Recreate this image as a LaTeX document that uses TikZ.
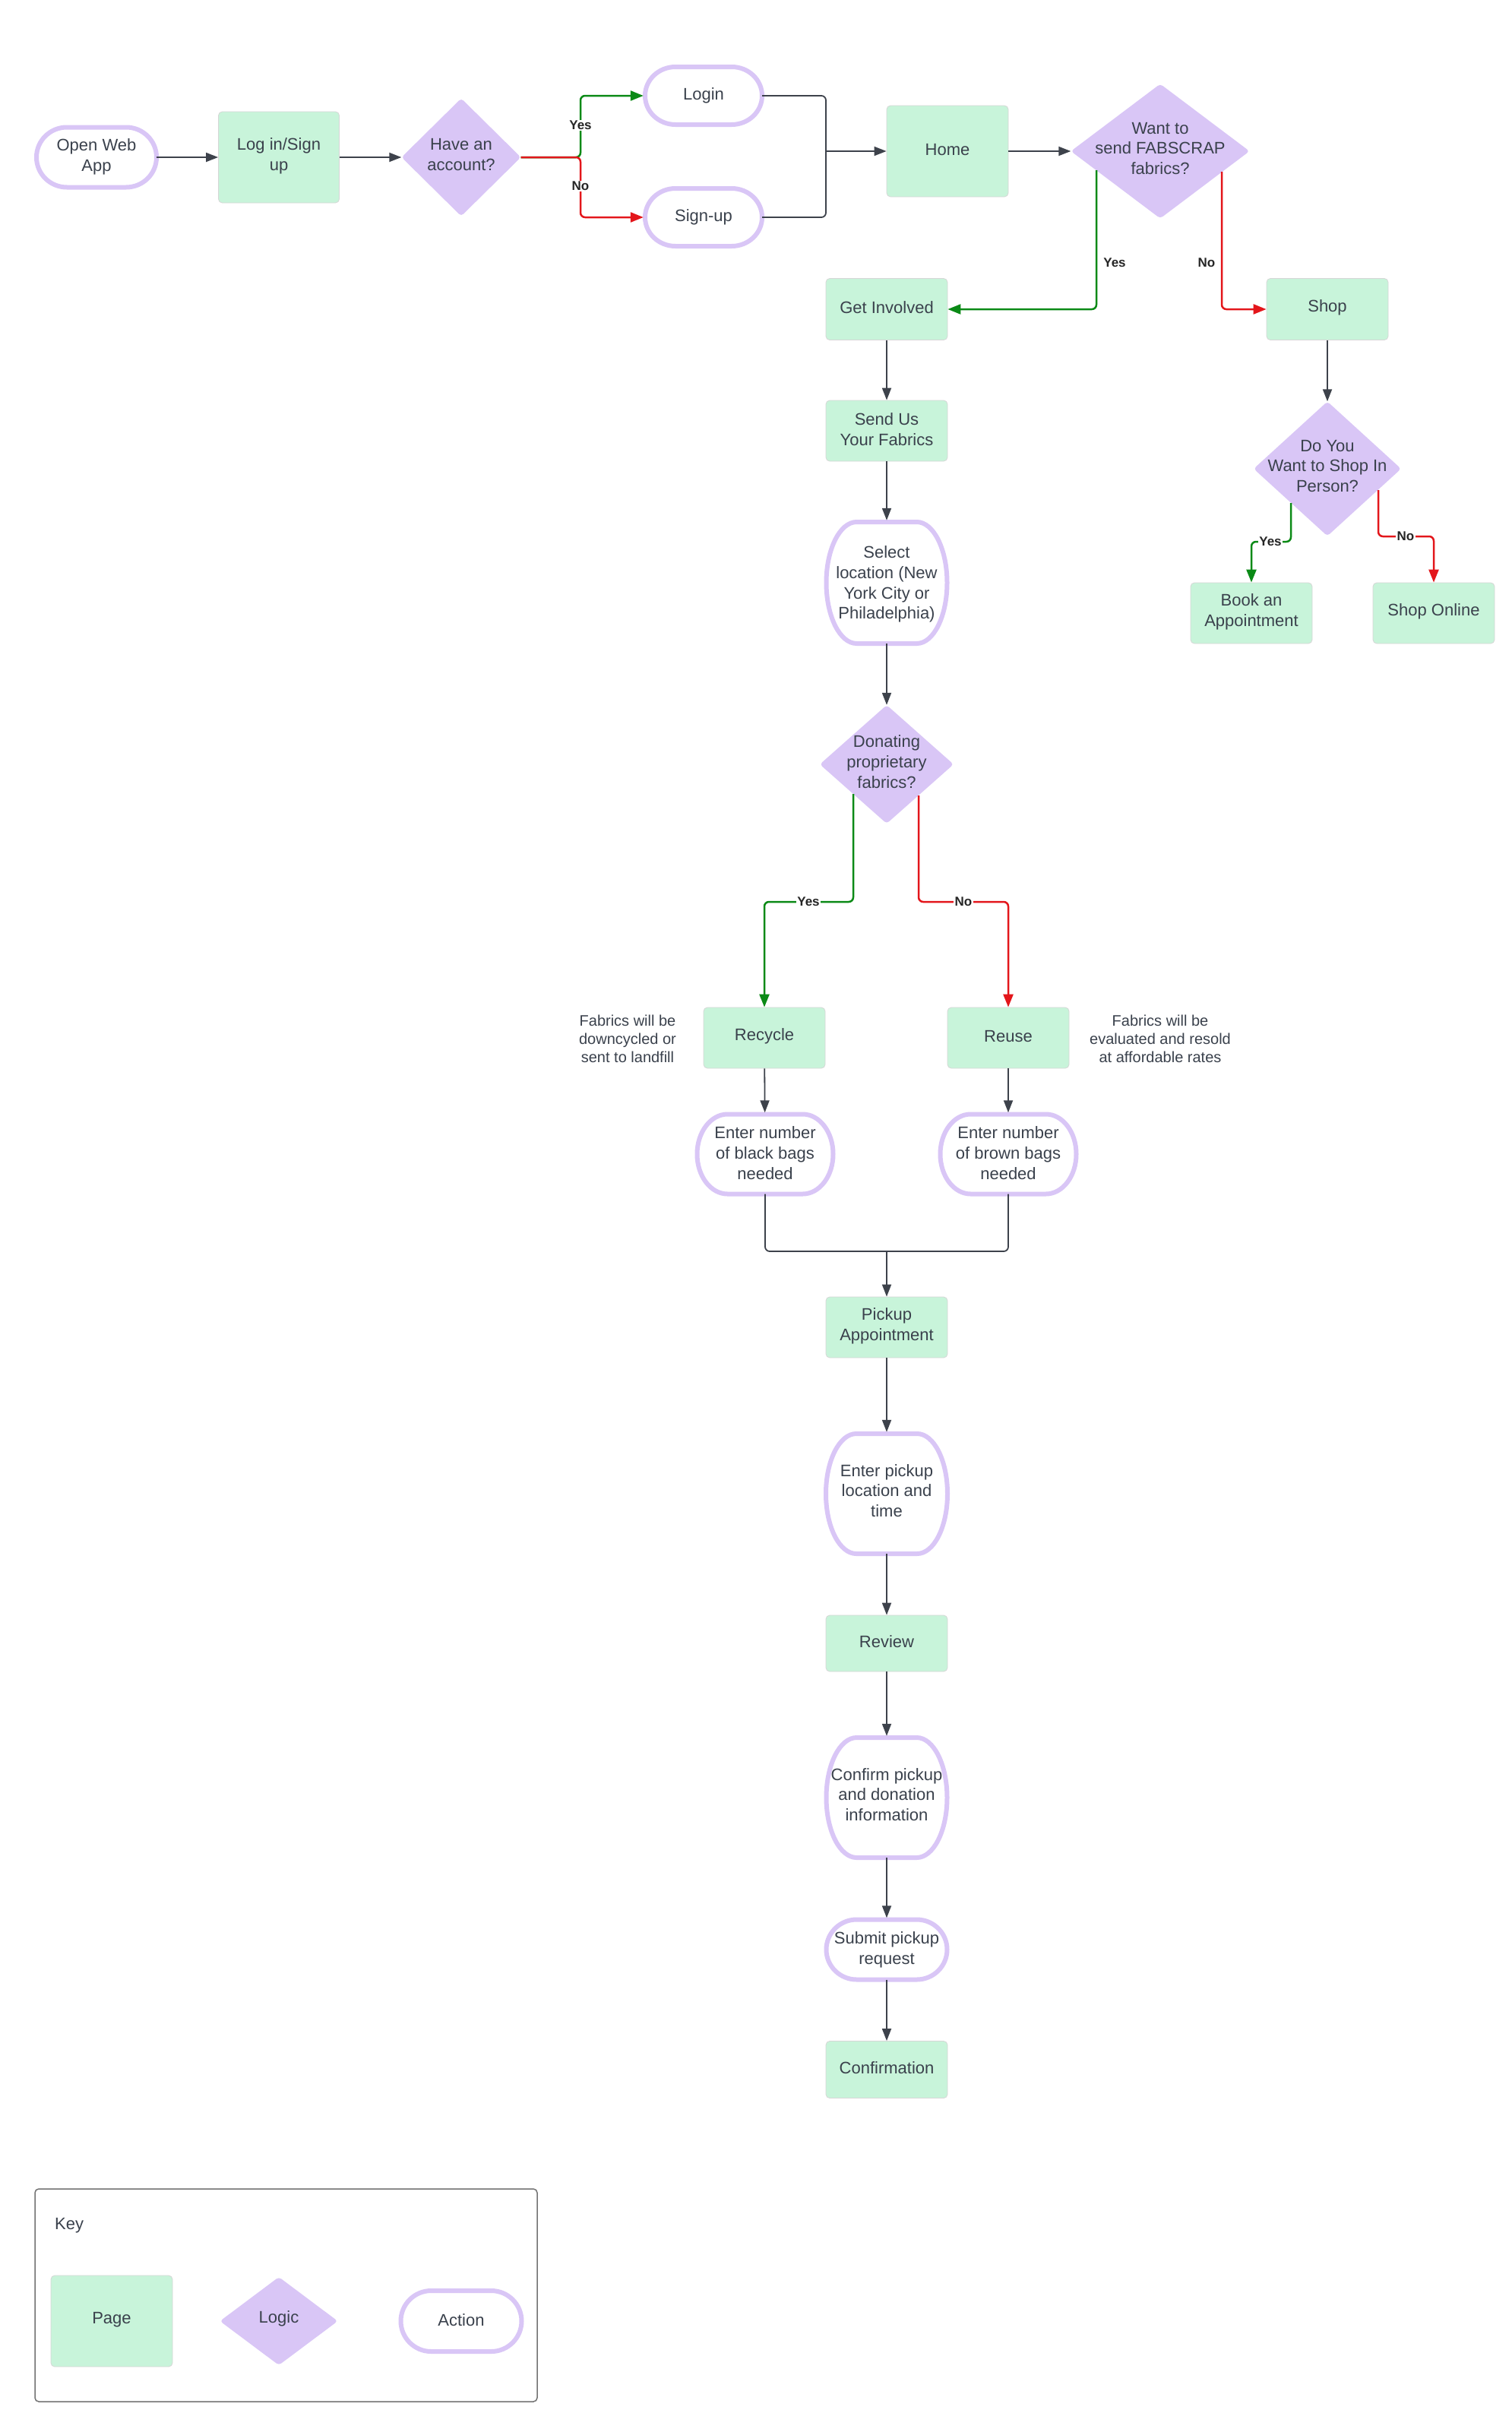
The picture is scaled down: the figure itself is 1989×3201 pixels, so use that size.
\documentclass[tikz,border=0pt]{standalone}
\usepackage{fontspec}
\setmainfont{Liberation Sans}
\usetikzlibrary{arrows.meta,calc}
\definecolor{pagegreen}{HTML}{C8F4DA}
\definecolor{logicpurple}{HTML}{D9C6F6}
\definecolor{txt}{HTML}{3A414C}
\definecolor{conn}{HTML}{3D424B}
\definecolor{yesgreen}{HTML}{0B8A16}
\definecolor{nored}{HTML}{E3161B}
\tikzset{
 base/.style={inner sep=0pt, align=center, text=txt, font=\fontsize{22}{26.7}\selectfont},
 page/.style={base, fill=pagegreen, draw=black!16, line width=0.8pt, rounded corners=5pt},
 logicfill/.style={fill=logicpurple, rounded corners=4pt},
 actborder/.style={draw=logicpurple, line width=6pt},
 flow/.style={draw=conn, line width=1.8pt, -{Triangle[length=16pt,width=12pt]}, rounded corners=6pt},
 flowline/.style={draw=conn, line width=1.8pt, rounded corners=6pt},
 yesflow/.style={draw=yesgreen, line width=2.5pt, -{Triangle[length=17pt,width=13pt]}, rounded corners=6pt},
 noflow/.style={draw=nored, line width=2.5pt, -{Triangle[length=17pt,width=13pt]}, rounded corners=6pt},
 lbl/.style={inner sep=1.5pt, text=black!85, font=\fontsize{17}{20}\selectfont\bfseries},
 lblbg/.style={lbl, fill=white},
 note/.style={inner sep=0pt, align=center, text=txt, font=\fontsize{20}{24}\selectfont},
}
\newcommand{\pagenode}[6]{%
 \node[page, minimum width=#4pt, minimum height=#5pt] (#1) at (#2,#3) {};
 \node[base] (#1-text) at (#2,{#3-2}) {#6};}
\newcommand{\logicnode}[6]{%
 \fill[logicfill] (#2,{#3-#5/2}) -- ({#2+#4/2},#3) -- (#2,{#3+#5/2}) -- ({#2-#4/2},#3) -- cycle;
 \node[base, minimum width=#4pt, minimum height=#5pt] (#1) at (#2,#3) {};
 \node[base] (#1-text) at (#2,{#3-3.5}) {#6};}
\newcommand{\actnode}[7]{%
 \node[base, minimum width=#4pt, minimum height=#5pt] (#1) at (#2,#3) {};
 \node[base] (#1-text) at (#2,{#3+#7}) {#6};
 \draw[actborder] ({#2-#4/2+40},{#3-#5/2}) -- ({#2+#4/2-40},{#3-#5/2})
   .. controls ({#2+#4/2-17.9},{#3-#5/2}) and ({#2+#4/2},{#3-0.2762*#5}) .. ({#2+#4/2},#3)
   .. controls ({#2+#4/2},{#3+0.2762*#5}) and ({#2+#4/2-17.9},{#3+#5/2}) .. ({#2+#4/2-40},{#3+#5/2})
   -- ({#2-#4/2+40},{#3+#5/2})
   .. controls ({#2-#4/2+17.9},{#3+#5/2}) and ({#2-#4/2},{#3+0.2762*#5}) .. ({#2-#4/2},#3)
   .. controls ({#2-#4/2},{#3-0.2762*#5}) and ({#2-#4/2+17.9},{#3-#5/2}) .. ({#2-#4/2+40},{#3-#5/2}) -- cycle;}
\begin{document}
\begin{tikzpicture}[x=1pt,y=-1pt]
\useasboundingbox (0,0) rectangle (1989,3201);
\fill[white] (0,0) rectangle (1989,3201);

% top row
\actnode{open}{127}{207}{158}{79}{Open Web\\App}{-1}
\pagenode{lsu}{367}{207}{159}{120}{Log in/Sign\\up}
\logicnode{d1}{607}{207}{157}{155}{Have an\\account?}
\actnode{login}{926}{126}{154}{76}{Login}{0}
\actnode{signup}{926}{286}{154}{76}{Sign-up}{0}
\pagenode{home}{1247}{199}{160}{120}{Home}
\logicnode{d2}{1527}{199}{235}{177}{Want to\\send FABSCRAP\\fabrics?}

% second level
\pagenode{getinv}{1167}{407}{160}{81}{Get Involved}
\pagenode{shop}{1747}{407}{160}{81}{Shop}
\pagenode{sendus}{1167}{567}{160}{80}{Send Us\\Your Fabrics}
\actnode{select}{1167}{767}{159}{160}{Select\\location (New\\York City or\\Philadelphia)}{2}
\logicnode{d4}{1747}{617}{194}{177}{Do You\\Want to Shop In\\Person?}
\pagenode{book}{1647}{807}{160}{80}{Book an\\Appointment}
\pagenode{shoponline}{1887}{807}{160}{80}{Shop Online}
\logicnode{d3}{1167}{1006}{176}{156}{Donating\\proprietary\\fabrics?}
\pagenode{recycle}{1006}{1366}{160}{80}{Recycle}
\pagenode{reuse}{1327}{1366}{160}{80}{Reuse}
\node[note] (n1) at (826,1367) {Fabrics will be\\downcycled or\\sent to landfill};
\node[note] (n2) at (1527,1367) {Fabrics will be\\evaluated and resold\\at affordable rates};
\actnode{black}{1007}{1519}{179}{105}{Enter number\\of black bags\\needed}{-1.5}
\actnode{brown}{1327}{1519}{179}{105}{Enter number\\of brown bags\\needed}{-1.5}
\pagenode{pickup}{1167}{1747}{160}{80}{Pickup\\Appointment}
\actnode{enterpick}{1167}{1966}{160}{158}{Enter pickup\\location and\\time}{-4}
\pagenode{review}{1167}{2163}{160}{74}{Review}
\actnode{confirm}{1167}{2366}{159}{158}{Confirm pickup\\and donation\\information}{-4}
\actnode{submit}{1167}{2566}{159}{79}{Submit pickup\\request}{0}
\pagenode{confirmation}{1167}{2724}{160}{75}{Confirmation}

% connectors top
\draw[flow] (open) -- (lsu);
\draw[flow] (lsu) -- (d1);
\coordinate (j1) at (764,207);
\draw[yesflow, shorten >=2pt] (d1.east) -- (j1) |- (login.west);
\draw[noflow, shorten >=2pt] (d1.east) -- (j1) |- (signup.west);
\node[lblbg] (yes1) at (764,165) {Yes};
\node[lblbg] (no1) at (764,245) {No};
\coordinate (j2) at (1087,199);
\draw[flowline] (login.east) -| (j2);
\draw[flowline] (signup.east) -| (j2);
\draw[flow] (j2) -- (home.west);
\draw[flow] (home) -- (d2);
\draw[yesflow] ($(d2.center)+(-84,25)$) |- (getinv.east);
\draw[noflow] ($(d2.center)+(81,27)$) |- (shop.west);
\node[lbl] (yes2) at (1467,346) {Yes};
\node[lbl] (no2) at (1588,346) {No};

\draw[flow] (getinv) -- (sendus);
\draw[flow, shorten >=2pt] (sendus) -- (select);
\draw[flow] (select) -- (d3);
\draw[flow] (shop) -- (d4);
\draw[yesflow] ($(d4.center)+(-48,45)$) -- ++(0,51) -| (book.north);
\draw[noflow] ($(d4.center)+(67,28)$) -- ++(0,61) -| (shoponline.north);
\node[lblbg] (yes3) at (1672,713) {Yes};
\node[lblbg] (no3) at (1850,706) {No};

\draw[yesflow] ($(d3.center)+(-44,39)$) -- ++(0,142) -| (recycle.north);
\draw[noflow] ($(d3.center)+(42,41)$) -- ++(0,140) -| (reuse.north);
\node[lblbg] (yes4) at (1064,1187) {Yes};
\node[lblbg] (no4) at (1268,1187) {No};

\draw[flow, shorten >=2pt] (recycle) -- (black);
\draw[flow, shorten >=2pt] (reuse) -- (brown);
\coordinate (j3) at (1167,1647);
\draw[flowline] (black.south) |- (j3);
\draw[flowline] (brown.south) |- (j3);
\draw[flow] (j3) -- (pickup.north);
\draw[flow, shorten >=2pt] (pickup) -- (enterpick);
\draw[flow] (enterpick) -- (review);
\draw[flow, shorten >=2pt] (review) -- (confirm);
\draw[flow, shorten >=2pt] (confirm) -- (submit);
\draw[flow] (submit) -- (confirmation);

% key
\node[draw=black!55, line width=1.5pt, rounded corners=5pt, minimum width=661pt, minimum height=280pt, inner sep=0pt] (keybox) at (376.5,3021) {};
\node[base, anchor=west] (keytitle) at (72,2929) {Key};
\pagenode{keypage}{147}{3055}{160}{120}{Page}
\logicnode{keylogic}{367}{3055}{155}{116}{Logic}
\actnode{keyaction}{607}{3055}{159}{80}{Action}{-1}
\end{tikzpicture}
\end{document}
